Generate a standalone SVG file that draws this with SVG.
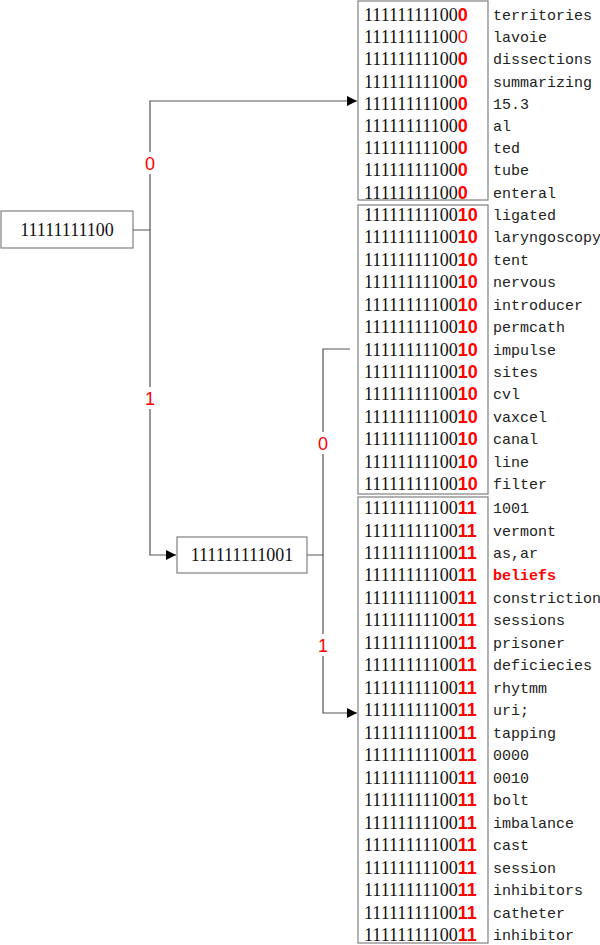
<svg xmlns="http://www.w3.org/2000/svg" width="600" height="945" viewBox="0 0 600 945">
<style>
.box{fill:#fff;stroke:#808080;stroke-width:1.2}
.ln{fill:none;stroke:#555;stroke-width:1.2}
.num{font-family:"Liberation Serif",serif;font-size:18px;fill:#111}
.r{font-family:"Liberation Sans",sans-serif;font-weight:bold;fill:#f00}
.rt{font-family:"Liberation Sans",sans-serif;fill:#f00}
.w{font-family:"Liberation Mono","DejaVu Sans Mono",monospace;font-size:15px;fill:#222}
.wb{font-family:"Liberation Mono","DejaVu Sans Mono",monospace;font-size:15px;fill:#f00;font-weight:bold}
.lbl{font-family:"Liberation Sans",sans-serif;font-size:18px;fill:#f00;text-anchor:middle}
.ctr{text-anchor:middle}
</style>
<defs>
<marker id="arr" viewBox="0 0 10 10" refX="10" refY="5" markerWidth="10" markerHeight="10" markerUnits="userSpaceOnUse" orient="auto">
<path d="M0,0 L10,5 L0,10 z" fill="#000"/>
</marker>
</defs>

<g id="connectors">
<path class="ln" d="M133,230 H150 V101 H357" marker-end="url(#arr)"/>
<path class="ln" d="M150,230 V555 H176" marker-end="url(#arr)"/>
<path class="ln" d="M307,555 H323 V349 H350"/>
<path class="ln" d="M323,555 V713 H357" marker-end="url(#arr)"/>
<rect x="142" y="152" width="16" height="22" fill="#fff"/>
<text class="lbl" x="150" y="170">0</text>
<rect x="142" y="387" width="16" height="22" fill="#fff"/>
<text class="lbl" x="150" y="405">1</text>
<rect x="315" y="432" width="16" height="22" fill="#fff"/>
<text class="lbl" x="323" y="450">0</text>
<rect x="315" y="634" width="16" height="22" fill="#fff"/>
<text class="lbl" x="323" y="652">1</text>
</g>

<g id="root">
<rect class="box" x="1" y="211" width="132" height="37"/>
<text class="num ctr" x="67" y="236">11111111100</text>
</g>

<g id="node1001">
<rect class="box" x="177" y="537" width="130" height="36"/>
<text class="num ctr" x="242" y="561">111111111001</text>
</g>

<g id="leaf000">
<rect class="box" x="358" y="1" width="130" height="199"/>
<text class="num" x="364" y="21">11111111100<tspan class="r">0</tspan></text>
<text class="num" x="364" y="43.2">11111111100<tspan class="rt">0</tspan></text>
<text class="num" x="364" y="65.4">11111111100<tspan class="r">0</tspan></text>
<text class="num" x="364" y="87.6">11111111100<tspan class="r">0</tspan></text>
<text class="num" x="364" y="109.8">11111111100<tspan class="r">0</tspan></text>
<text class="num" x="364" y="132">11111111100<tspan class="r">0</tspan></text>
<text class="num" x="364" y="154.2">11111111100<tspan class="r">0</tspan></text>
<text class="num" x="364" y="176.4">11111111100<tspan class="r">0</tspan></text>
<text class="num" x="364" y="198.6">11111111100<tspan class="r">0</tspan></text>
<text class="w" x="493" y="20">territories</text>
<text class="w" x="493" y="42.2">lavoie</text>
<text class="w" x="493" y="64.4">dissections</text>
<text class="w" x="493" y="86.6">summarizing</text>
<text class="w" x="493" y="108.8">15.3</text>
<text class="w" x="493" y="131">al</text>
<text class="w" x="493" y="153.2">ted</text>
<text class="w" x="493" y="175.4">tube</text>
<text class="w" x="493" y="197.6">enteral</text>
</g>

<g id="leaf0010">
<rect class="box" x="358" y="205" width="130" height="289"/>
<text class="num" x="364" y="221">11111111100<tspan class="r">10</tspan></text>
<text class="num" x="364" y="243.4">11111111100<tspan class="r">10</tspan></text>
<text class="num" x="364" y="265.8">11111111100<tspan class="r">10</tspan></text>
<text class="num" x="364" y="288.3">11111111100<tspan class="r">10</tspan></text>
<text class="num" x="364" y="310.7">11111111100<tspan class="r">10</tspan></text>
<text class="num" x="364" y="333.1">11111111100<tspan class="r">10</tspan></text>
<text class="num" x="364" y="355.5">11111111100<tspan class="r">10</tspan></text>
<text class="num" x="364" y="377.9">11111111100<tspan class="r">10</tspan></text>
<text class="num" x="364" y="400.4">11111111100<tspan class="r">10</tspan></text>
<text class="num" x="364" y="422.8">11111111100<tspan class="r">10</tspan></text>
<text class="num" x="364" y="445.2">11111111100<tspan class="r">10</tspan></text>
<text class="num" x="364" y="467.6">11111111100<tspan class="r">10</tspan></text>
<text class="num" x="364" y="490">11111111100<tspan class="r">10</tspan></text>
<text class="w" x="493" y="220">ligated</text>
<text class="w" x="493" y="242.4">laryngoscopy</text>
<text class="w" x="493" y="264.8">tent</text>
<text class="w" x="493" y="287.3">nervous</text>
<text class="w" x="493" y="309.7">introducer</text>
<text class="w" x="493" y="332.1">permcath</text>
<text class="w" x="493" y="354.5">impulse</text>
<text class="w" x="493" y="376.9">sites</text>
<text class="w" x="493" y="399.4">cvl</text>
<text class="w" x="493" y="421.8">vaxcel</text>
<text class="w" x="493" y="444.2">canal</text>
<text class="w" x="493" y="466.6">line</text>
<text class="w" x="493" y="489">filter</text>
</g>

<g id="leaf0011">
<rect class="box" x="358" y="497" width="130" height="446"/>
<text class="num" x="364" y="514">11111111100<tspan class="r">11</tspan></text>
<text class="num" x="364" y="536.5">11111111100<tspan class="r">11</tspan></text>
<text class="num" x="364" y="558.9">11111111100<tspan class="r">11</tspan></text>
<text class="num" x="364" y="581.4">11111111100<tspan class="r">11</tspan></text>
<text class="num" x="364" y="603.9">11111111100<tspan class="r">11</tspan></text>
<text class="num" x="364" y="626.4">11111111100<tspan class="r">11</tspan></text>
<text class="num" x="364" y="648.8">11111111100<tspan class="r">11</tspan></text>
<text class="num" x="364" y="671.3">11111111100<tspan class="r">11</tspan></text>
<text class="num" x="364" y="693.8">11111111100<tspan class="r">11</tspan></text>
<text class="num" x="364" y="716.2">11111111100<tspan class="r">11</tspan></text>
<text class="num" x="364" y="738.7">11111111100<tspan class="r">11</tspan></text>
<text class="num" x="364" y="761.2">11111111100<tspan class="r">11</tspan></text>
<text class="num" x="364" y="783.6">11111111100<tspan class="r">11</tspan></text>
<text class="num" x="364" y="806.1">11111111100<tspan class="r">11</tspan></text>
<text class="num" x="364" y="828.6">11111111100<tspan class="r">11</tspan></text>
<text class="num" x="364" y="851.1">11111111100<tspan class="r">11</tspan></text>
<text class="num" x="364" y="873.5">11111111100<tspan class="r">11</tspan></text>
<text class="num" x="364" y="896">11111111100<tspan class="r">11</tspan></text>
<text class="num" x="364" y="918.5">11111111100<tspan class="r">11</tspan></text>
<text class="num" x="364" y="940.9">11111111100<tspan class="r">11</tspan></text>
<text class="w" x="493" y="513">1001</text>
<text class="w" x="493" y="535.5">vermont</text>
<text class="w" x="493" y="557.9">as,ar</text>
<text class="wb" x="493" y="580.4">beliefs</text>
<text class="w" x="493" y="602.9">constriction</text>
<text class="w" x="493" y="625.4">sessions</text>
<text class="w" x="493" y="647.8">prisoner</text>
<text class="w" x="493" y="670.3">deficiecies</text>
<text class="w" x="493" y="692.8">rhytmm</text>
<text class="w" x="493" y="715.2">uri;</text>
<text class="w" x="493" y="737.7">tapping</text>
<text class="w" x="493" y="760.2">0000</text>
<text class="w" x="493" y="782.6">0010</text>
<text class="w" x="493" y="805.1">bolt</text>
<text class="w" x="493" y="827.6">imbalance</text>
<text class="w" x="493" y="850.1">cast</text>
<text class="w" x="493" y="872.5">session</text>
<text class="w" x="493" y="895">inhibitors</text>
<text class="w" x="493" y="917.5">catheter</text>
<text class="w" x="493" y="939.9">inhibitor</text>
</g>
</svg>
